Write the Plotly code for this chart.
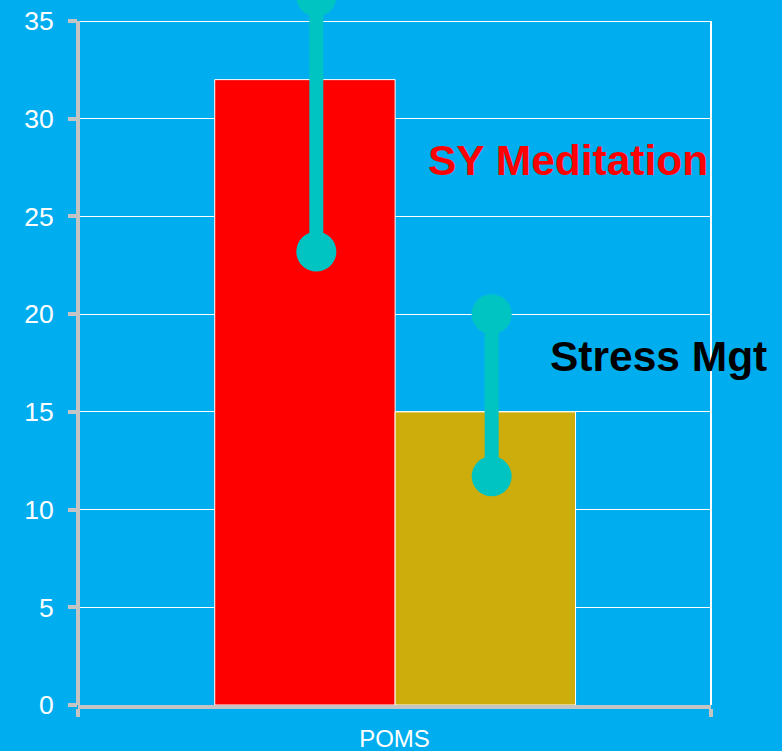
import plotly.graph_objects as go

categories = ["POMS"]
groups = ["SY Meditation", "Stress Mgt"]
bar_values = [32, 15]
range_high = [36.25, 20]
range_low = [23.2, 11.7]
y_ticks = [0, 5, 10, 15, 20, 25, 30, 35]

BG = "#00AEEF"
bar_colors = ["#FF0000", "#CDAD0B"]
TEAL = "#00C4C2"
GRAY = "#C4C4C4"

bar_width = 0.285
bar_centers = [-0.1415, 0.1435]
err_shift = [0.018, 0.010]

# the page is shifted up by SHIFT px so the plot area can reach above the window top
SHIFT = 10
AX_TOP = 35
PX_PER_UNIT = 684 / 35
Y_MAX = AX_TOP + (21 + SHIFT) / PX_PER_UNIT
axis_frac = AX_TOP / Y_MAX

fig = go.Figure()
for i, g in enumerate(groups):
    fig.add_trace(go.Bar(
        x=[bar_centers[i]], y=[bar_values[i]], name=g,
        width=bar_width,
        marker=dict(color=bar_colors[i], line=dict(color="white", width=1)),
        showlegend=False,
    ))

for i, g in enumerate(groups):
    xc = bar_centers[i] + err_shift[i]
    fig.add_trace(go.Scatter(
        x=[xc, xc], y=[range_low[i], range_high[i]],
        mode="lines+markers",
        line=dict(color=TEAL, width=14),
        marker=dict(color=TEAL, size=40),
        cliponaxis=False, showlegend=False,
    ))

fig.update_layout(
    width=782, height=751 + SHIFT,
    margin=dict(l=78, r=71, t=0, b=46),
    paper_bgcolor=BG, plot_bgcolor=BG,
    barmode="overlay",
    font=dict(family="Liberation Sans, Arial, sans-serif", color="white"),
    xaxis=dict(
        range=[-0.5, 0.5], tickvals=[0], ticktext=categories, ticks="",
        minor=dict(tickvals=[-0.5, 0.5], ticks="outside", ticklen=8,
                   tickwidth=4, tickcolor=GRAY, showgrid=False),
        showline=True, linecolor=GRAY, linewidth=4,
        showgrid=False, zeroline=False, tickfont=dict(size=24, color="white"),
        ticklabelstandoff=9,
    ),
    yaxis=dict(
        range=[0, Y_MAX], tickvals=y_ticks, ticks="outside",
        ticklen=9, tickwidth=4, tickcolor=GRAY,
        showline=False,
        showgrid=True, gridcolor="white", gridwidth=1, zeroline=False,
        tickfont=dict(size=26.5, color="white"), ticklabelstandoff=9,
    ),
    shapes=[
        dict(type="line", xref="paper", yref="paper", x0=0, x1=0, y0=0, y1=axis_frac,
             line=dict(color=GRAY, width=4), layer="above"),
        dict(type="line", xref="paper", yref="paper", x0=1, x1=1, y0=0, y1=axis_frac,
             line=dict(color="white", width=2), layer="above"),
    ],
    annotations=[
        dict(text="<b>SY Meditation</b>", xref="paper", yref="y", x=0.998, y=27.85,
             xanchor="right", yanchor="middle", showarrow=False,
             font=dict(size=42.5, color="#FF0000")),
        dict(text="<b>Stress Mgt</b>", xref="paper", yref="y", x=0.742, y=17.85,
             xanchor="left", yanchor="middle", showarrow=False,
             font=dict(size=42.5, color="black")),
    ],
)

fig.write_html(
    "out.html",
    config={"displayModeBar": False},
    post_script=("document.body.style.margin='0';"
                 "document.body.style.marginTop='-%dpx';"
                 "document.body.style.overflow='hidden';" % SHIFT),
)
